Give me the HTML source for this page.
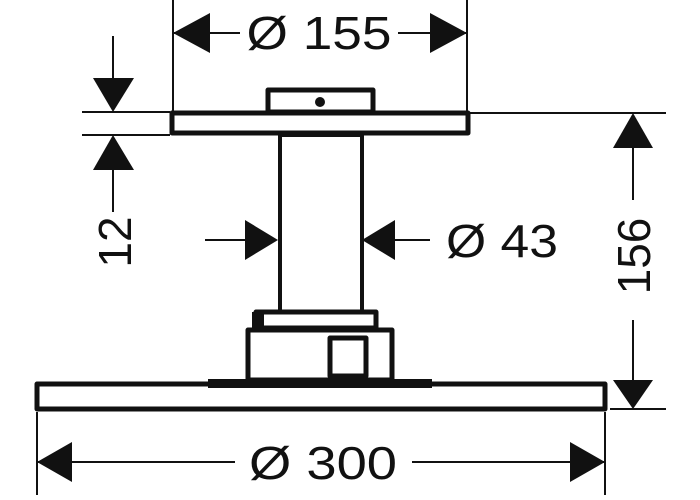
<!DOCTYPE html>
<html><head><style>html,body{margin:0;padding:0;background:#fff}svg{display:block}</style></head><body>
<svg width="700" height="500" viewBox="0 0 700 500" xmlns="http://www.w3.org/2000/svg" font-family="Liberation Sans, sans-serif">
<g stroke="#111" fill="none" stroke-width="2">
<line x1="173" y1="0" x2="173" y2="111"/>
<line x1="467" y1="0" x2="467" y2="111"/>
<line x1="173" y1="33" x2="240" y2="33"/>
<line x1="398" y1="33" x2="467" y2="33"/>
<line x1="82" y1="112" x2="170" y2="112"/>
<line x1="82" y1="135" x2="170" y2="135"/>
<line x1="113" y1="36" x2="113" y2="80"/>
<line x1="113" y1="165" x2="113" y2="212"/>
<line x1="470" y1="113" x2="666" y2="113"/>
<line x1="610" y1="409" x2="666" y2="409"/>
<line x1="633" y1="140" x2="633" y2="200"/>
<line x1="633" y1="320" x2="633" y2="385"/>
<line x1="205" y1="240" x2="250" y2="240"/>
<line x1="390" y1="240" x2="430" y2="240"/>
<line x1="37" y1="412" x2="37" y2="495"/>
<line x1="605" y1="412" x2="605" y2="495"/>
<line x1="37" y1="462" x2="235" y2="462"/>
<line x1="412" y1="462" x2="605" y2="462"/>
</g>
<g fill="#111">
<polygon points="173,33 210,13 210,53"/>
<polygon points="467,33 430,13 430,53"/>
<polygon points="113,112 93,78 134,78"/>
<polygon points="113,135 93,170 134,170"/>
<polygon points="633,113 613,148 653,148"/>
<polygon points="633,409 613,380 653,380"/>
<polygon points="278,240 245,220 245,260"/>
<polygon points="362,240 395,220 395,260"/>
<polygon points="37,462 72,442 72,482"/>
<polygon points="605,462 570,442 570,482"/>
</g>
<g stroke="#111" fill="#fff" stroke-width="5" stroke-linejoin="round">
<rect x="268" y="90" width="105" height="22"/>
<rect x="172" y="113" width="296" height="20"/>
<rect x="280" y="135" width="82" height="177" stroke-width="4"/>
<rect x="256" y="312" width="120" height="16"/>
<rect x="248" y="330" width="144" height="50"/>
<rect x="37" y="384" width="568" height="25"/>
<rect x="330" y="338" width="36" height="38" fill="#fff"/>
</g>
<circle cx="320" cy="102" r="5" fill="#111"/>
<rect x="208" y="379" width="224" height="9" fill="#111"/>
<rect x="252" y="312" width="12" height="16" fill="#111"/>
<g font-size="46" fill="#111" text-anchor="middle">
<text x="319" y="49" textLength="145" lengthAdjust="spacingAndGlyphs">Ø 155</text>
<text x="502" y="257" textLength="112" lengthAdjust="spacingAndGlyphs">Ø 43</text>
<text x="323" y="479" textLength="148" lengthAdjust="spacingAndGlyphs">Ø 300</text>
<text transform="translate(131,242) rotate(-90)">12</text>
<text transform="translate(650,256) rotate(-90)">156</text>
</g>
</svg>
</body></html>
